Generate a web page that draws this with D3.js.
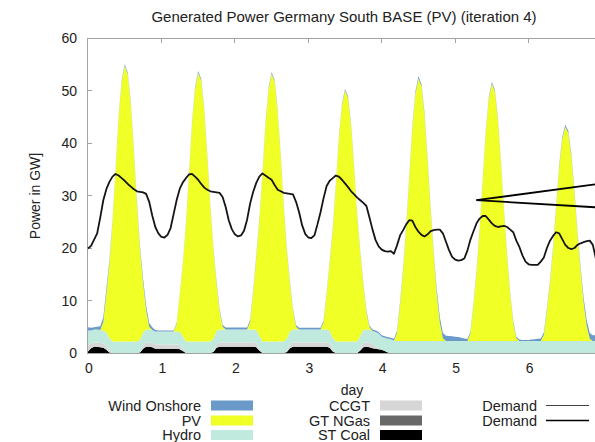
<!DOCTYPE html>
<html>
<head>
<meta charset="utf-8">
<script src="https://cdn.jsdelivr.net/npm/d3@7"></script>
<style>
  html, body { margin: 0; padding: 0; background: #fff; }
  svg { display: block; font-family: "Liberation Sans", Arial, sans-serif; }
</style>
</head>
<body>
<svg id="chart" width="595" height="442"></svg>
<script>
// Hourly generation (GW) for one week, stacked bottom to top.
const dayTicks = [0, 1, 2, 3, 4, 5, 6, 7];
const gwTicks = [0, 10, 20, 30, 40, 50, 60];

const coal = [].concat(
  [0.3,0.9,1.2,1.2,1.1,1.0,0.6,0.1, 0,0,0,0,0,0,0,0,0, 0.1,0.8,1.2,1.2,1.1,0.8,0.8],
  [0.8,0.8,0.8,0.8,0.8,0.8,0.7,0.4, 0,0,0,0,0,0,0,0,0, 0.2,1.0,1.2,1.2,1.2,1.2,1.2],
  [1.2,1.2,1.2,1.2,1.2,1.2,1.2,1.1,0.5, 0,0,0,0,0,0,0,0, 0.2,0.9,1.2,1.2,1.2,1.2,1.2],
  [1.2,1.2,1.2,1.2,1.2,1.2,1.2,1.0,0.3, 0,0,0,0,0,0,0,0, 0.5,1.1,1.2,1.1,0.9,0.8,0.7],
  [0.6,0.4,0.1, 0,0,0,0,0,0,0,0,0,0,0,0,0,0,0,0,0,0,0,0,0],
  [0,0,0,0,0,0,0,0,0,0,0,0,0,0,0,0,0,0,0,0,0,0,0,0],
  [0,0,0,0,0,0,0,0,0,0,0,0,0,0,0,0,0,0,0,0,0,0,0,0],
  [0]
);

const gtNGas = [].concat(
  [0,0,0,0,0,0,0,0,0,0,0,0,0,0,0,0,0,0,0,0,0,0,0,0],
  [0,0,0,0,0,0,0,0,0,0,0,0,0,0,0,0,0,0,0,0,0,0,0,0],
  [0,0,0,0,0,0,0,0,0,0,0,0,0,0,0,0,0,0,0,0,0,0,0,0],
  [0,0,0,0,0,0,0,0,0,0,0,0,0,0,0,0,0,0,0,0,0,0,0,0],
  [0,0,0,0,0,0,0,0,0,0,0,0,0,0,0,0,0,0,0,0,0,0,0,0],
  [0,0,0,0,0,0,0,0,0,0,0,0,0,0,0,0,0,0,0,0,0,0,0,0],
  [0,0,0,0,0,0,0,0,0,0,0,0,0,0,0,0,0,0,0,0,0,0,0,0],
  [0]
);

const ccgt = [].concat(
  [1.2,0.9,0.8,0.8,0.8,0.8,0.8,0.4, 0,0,0,0,0,0,0,0,0, 0.1,0.6,0.8,0.8,0.8,0.8,0.8],
  [0.8,0.8,0.8,0.8,0.8,0.8,0.8,0.4, 0,0,0,0,0,0,0,0,0, 0.2,0.7,0.8,0.8,0.8,0.8,0.8],
  [0.8,0.8,0.8,0.8,0.8,0.8,0.8,0.8,0.4, 0,0,0,0,0,0,0,0, 0.2,0.7,0.8,0.8,0.8,0.8,0.8],
  [0.8,0.8,0.8,0.8,0.8,0.8,0.8,0.8,0.3, 0,0,0,0,0,0,0,0, 0.4,0.8,0.8,0.8,0.8,0.5,0.1],
  [0,0,0,0,0,0,0,0,0,0,0,0,0,0,0,0,0,0,0,0,0,0,0,0],
  [0,0,0,0,0,0,0,0,0,0,0,0,0,0,0,0,0,0,0,0,0,0,0,0],
  [0,0,0,0,0,0,0,0,0,0,0,0,0,0,0,0,0,0,0,0,0,0,0,0],
  [0]
);

const hydro = [].concat(
  [2.8,2.5,2.5,2.5,2.5,2.5,2.5,2.4, 2.2,2.2,2.2,2.2,2.2,2.2,2.2,2.2,2.2, 2.3,2.5,2.5,2.5,2.5,2.5,2.5],
  [2.5,2.5,2.5,2.5,2.5,2.5,2.5,2.4, 2.2,2.2,2.2,2.2,2.2,2.2,2.2,2.2,2.2, 2.3,2.5,2.5,2.5,2.5,2.5,2.5],
  [2.5,2.5,2.5,2.5,2.5,2.5,2.5,2.5,2.4, 2.2,2.2,2.2,2.2,2.2,2.2,2.2,2.2, 2.3,2.5,2.5,2.5,2.5,2.5,2.5],
  [2.5,2.5,2.5,2.5,2.5,2.5,2.5,2.5,2.3, 2.2,2.2,2.2,2.2,2.2,2.2,2.2,2.2, 2.4,2.5,2.5,2.5,2.5,2.7,2.9],
  [2.5,2.5,2.6,2.6,2.4, 2.3,2.3,2.3,2.3,2.3,2.3,2.3,2.3,2.3,2.3,2.3,2.3,2.3,2.3,2.3,2.3,2.3,2.3,2.3],
  [2.3,2.3,2.3,2.3,2.3,2.3,2.3,2.3,2.3,2.3,2.3,2.3,2.3,2.3,2.3,2.3,2.3,2.3,2.3,2.3,2.3,2.3,2.3,2.3],
  [2.3,2.3,2.3,2.3,2.3,2.3,2.3,2.3,2.3,2.3,2.3,2.3,2.3,2.3,2.3,2.3,2.3,2.3,2.3,2.3,2.3,2.3,2.3,2.3],
  [2.3]
);

const pv = [].concat(
  [0,0,0,0,0,1.6,7.4,14.2,22.6,32.6,42.5,49.4,52.5,50.9,45.2,36.2,26.3,17.3,9.5,3.7,0.5,0,0,0],
  [0,0,0,0,0,1.5,7.2,13.8,22.0,31.7,41.5,48.1,51.2,49.7,44.0,35.3,25.6,16.9,9.2,3.6,0.5,0,0,0],
  [0,0,0,0,0,1.5,7.1,13.8,21.9,31.6,41.3,47.9,51.0,49.5,43.9,35.2,25.5,16.8,9.2,3.6,0.5,0,0,0],
  [0,0,0,0,0,1.4,6.7,12.9,20.6,29.6,38.7,44.9,47.8,46.4,41.1,33.0,23.9,15.8,8.6,3.3,0.5,0,0,0],
  [0,0,0,0,0,1.5,7.0,13.5,21.5,31.0,40.5,47.0,50.0,48.5,43.0,34.5,25.0,16.5,9.0,3.5,0.5,0,0,0],
  [0,0,0,0,0,1.5,6.9,13.2,21.1,30.4,39.7,46.1,49.0,47.5,42.1,33.8,24.5,16.2,8.8,3.4,0.5,0,0,0],
  [0,0,0,0,0,1.2,5.7,11.0,17.5,25.3,33.0,38.4,40.8,39.6,35.1,28.2,20.4,13.5,7.3,2.9,0.4,0,0,0],
  [0]
);

const windOnshore = [].concat(
  [0.6,0.5,0.4,0.5,0.7,0.9,0.9,0.6,0.4, 0.3,0.3,0.3,0.3,0.3,0.3,0.3, 0.4,0.6,0.8,0.8,0.7,0.5,0.3,0.2],
  [0.2,0.2,0.2,0.2,0.2,0.2,0.2,0.2, 0.3,0.3,0.3,0.3,0.3,0.3,0.3,0.3,0.3,0.3, 0.35,0.35,0.35,0.35,0.35,0.35],
  [0.35,0.35,0.35,0.35,0.35,0.35,0.35,0.35, 0.3,0.3,0.3,0.3,0.3,0.3,0.3,0.3,0.3,0.3,0.3,0.3,0.3,0.3,0.3,0.3],
  [0.3,0.3,0.3,0.3,0.3,0.3,0.3,0.3,0.3,0.3,0.3,0.3,0.3,0.3,0.3,0.3,0.3,0.3,0.3,0.3,0.3,0.3,0.3,0.3],
  [0.3,0.3,0.3,0.3,0.3, 0.4,0.4,0.4,0.4,0.4,0.4,0.4,0.4,0.4,0.4,0.4,0.4,0.4, 0.8,1.0,1.0,1.0,0.95,0.9],
  [0.8,0.75,0.6,0.45,0.35, 0.3,0.3,0.3,0.3,0.3,0.3,0.3,0.3,0.3,0.3,0.3,0.3,0.3,0.3, 0.35,0.3,0.25,0.2,0.2],
  [0.2,0.25,0.3,0.4,0.45,0.4, 0.4,0.4,0.4,0.4,0.4,0.4,0.4,0.4,0.4,0.4,0.4, 0.6,0.9,1.05,1.1,1.1,1.1,1.1],
  [1.1]
);

const demand = [].concat(
  [19.9,20.4,21.6,22.8,25.8,29.1,31.2,32.6,33.6,34.1,33.8,33.3,32.8,32.2,31.7,31.2,30.8,30.7,30.6,30.3,28.8,26.2,24.0,22.8],
  [22.1,22.0,22.5,23.8,26.5,29.2,31.3,32.5,33.3,34.0,34.1,33.6,33.0,32.2,31.5,31.1,30.8,30.7,30.6,30.5,29.7,27.8,25.3,23.6],
  [22.6,22.2,22.4,23.3,25.4,28.5,30.7,32.4,33.6,34.2,33.8,33.4,33.0,32.0,31.1,30.8,30.5,30.4,30.3,30.2,28.8,26.8,24.3,22.7],
  [22.0,21.9,22.4,24.5,26.8,29.5,31.8,32.8,33.3,33.8,33.6,33.0,32.3,31.6,30.8,30.2,29.6,29.1,28.6,28.0,25.8,23.5,21.5,20.3],
  [19.7,19.4,19.3,19.4,18.9,20.5,22.4,23.4,24.5,25.3,25.2,24.0,23.1,22.5,22.2,22.6,23.2,23.4,23.5,23.5,22.8,21.2,19.6,18.3],
  [17.8,17.6,17.7,18.0,19.5,21.6,23.2,24.7,25.6,26.1,26.1,25.4,24.7,24.2,24.0,24.1,24.2,24.0,23.5,23.0,21.4,20.2,18.6,17.4],
  [16.9,16.8,16.8,16.8,17.4,18.2,20.0,21.4,22.3,23.0,22.8,21.7,20.6,20.0,19.8,20.0,20.6,20.9,21.1,21.3,21.4,20.6,18.0,16.8],
  [16.0]
);

// Two guide strokes that leave the plot towards the key on the right (day, GW).
const guideOrigin = [5.29, 29.1];
const guideEnds = [[7.1, 32.5], [7.1, 27.6]];

const seriesKeys = ["ST Coal", "GT NGas", "CCGT", "Hydro", "PV", "Wind Onshore"];
const seriesValues = [coal, gtNGas, ccgt, hydro, pv, windOnshore];
const seriesColors = {
  "Wind Onshore": "#6a9ac9",
  "PV": "#f0ff26",
  "Hydro": "#bfeadd",
  "CCGT": "#d6d6d6",
  "GT NGas": "#686868",
  "ST Coal": "#000000"
};

const rows = coal.map((_, i) => {
  const r = { day: i / 24 };
  seriesKeys.forEach((k, j) => { r[k] = seriesValues[j][i]; });
  return r;
});

const svg = d3.select("#chart");
const x = d3.scaleLinear().domain([0, 7]).range([88, 602]);
const y = d3.scaleLinear().domain([0, 60]).range([353, 38]);
const frameColor = "#a3a3a3";

// title
svg.append("text")
  .attr("x", 344).attr("y", 22)
  .attr("text-anchor", "middle")
  .attr("font-size", 15).attr("fill", "#222")
  .text("Generated Power Germany South BASE (PV) (iteration 4)");

// inward bottom ticks (hidden under the stack, as in the frame style)
const frame = svg.append("g");
frame.selectAll("line.bt").data(dayTicks.slice(1)).join("line")
  .attr("x1", d => x(d)).attr("x2", d => x(d))
  .attr("y1", y(0)).attr("y2", y(0) - 5)
  .attr("stroke", frameColor);

// stacked areas
const stack = d3.stack().keys(seriesKeys);
const layers = stack(rows);
const area = d3.area()
  .x(d => x(d.data.day))
  .y0(d => y(d[0]))
  .y1(d => y(d[1]));

svg.append("g").selectAll("path").data(layers).join("path")
  .attr("d", area)
  .attr("fill", d => seriesColors[d.key])
  .attr("stroke", "none");

// frame lines and inward ticks
const fg = svg.append("g").attr("stroke", frameColor).attr("stroke-width", 1).attr("shape-rendering", "crispEdges");
fg.append("line").attr("x1", x(0)).attr("x2", x(7)).attr("y1", y(60)).attr("y2", y(60));
fg.append("line").attr("x1", x(0)).attr("x2", x(7)).attr("y1", y(0) + 0.5).attr("y2", y(0) + 0.5);
fg.append("line").attr("x1", x(0) - 0.5).attr("x2", x(0) - 0.5).attr("y1", y(60)).attr("y2", y(0) + 1);
fg.selectAll("line.tt").data(dayTicks.slice(1, 7)).join("line")
  .attr("x1", d => x(d)).attr("x2", d => x(d))
  .attr("y1", y(60)).attr("y2", y(60) + 5);
fg.selectAll("line.lt").data(gwTicks.slice(1, 6)).join("line")
  .attr("x1", x(0)).attr("x2", x(0) + 4)
  .attr("y1", d => y(d)).attr("y2", d => y(d));

// demand
const line = d3.line().x((d, i) => x(i / 24)).y(d => y(d)).curve(d3.curveLinear);
svg.append("path")
  .datum(demand)
  .attr("d", line)
  .attr("fill", "none")
  .attr("stroke", "#151515")
  .attr("stroke-width", 1.8)
  .attr("stroke-linejoin", "round");

// guide strokes
svg.append("g").selectAll("line").data(guideEnds).join("line")
  .attr("x1", x(guideOrigin[0])).attr("y1", y(guideOrigin[1]))
  .attr("x2", d => x(d[0])).attr("y2", d => y(d[1]))
  .attr("stroke", "#000").attr("stroke-width", 1.8);

// tick labels
svg.append("g").selectAll("text").data(gwTicks).join("text")
  .attr("x", 77).attr("y", d => y(d) + 5)
  .attr("text-anchor", "end").attr("font-size", 14).attr("fill", "#222")
  .text(d => d);
svg.append("g").selectAll("text").data(dayTicks.slice(0, 7)).join("text")
  .attr("x", d => x(d) + 1).attr("y", 373)
  .attr("text-anchor", "middle").attr("font-size", 14).attr("fill", "#222")
  .text(d => d);

// axis titles
svg.append("text")
  .attr("transform", "translate(40,196) rotate(-90)")
  .attr("text-anchor", "middle").attr("font-size", 14).attr("fill", "#222")
  .text("Power in GW]");
svg.append("text")
  .attr("x", 352).attr("y", 395)
  .attr("text-anchor", "middle").attr("font-size", 14).attr("fill", "#222")
  .text("day");

// key
const keyCols = [
  { x: 201, items: ["Wind Onshore", "PV", "Hydro"] },
  { x: 370, items: ["CCGT", "GT NGas", "ST Coal"] }
];
const keyRows = [405.5, 420.5, 435];
keyCols.forEach(col => {
  const g = svg.append("g");
  col.items.forEach((name, i) => {
    g.append("text")
      .attr("x", col.x).attr("y", keyRows[i] + 5)
      .attr("text-anchor", "end").attr("font-size", 14.5).attr("fill", "#222")
      .text(name);
    g.append("rect")
      .attr("x", col.x + 10).attr("y", keyRows[i] - 5)
      .attr("width", 42).attr("height", 10)
      .attr("fill", seriesColors[name]);
  });
});
const demandKeys = [{ stroke: "#444", w: 1.2 }, { stroke: "#000", w: 1.6 }];
demandKeys.forEach((k, i) => {
  svg.append("text")
    .attr("x", 537).attr("y", keyRows[i] + 5)
    .attr("text-anchor", "end").attr("font-size", 14.5).attr("fill", "#222")
    .text("Demand");
  svg.append("line")
    .attr("x1", 546).attr("x2", 589)
    .attr("y1", keyRows[i]).attr("y2", keyRows[i])
    .attr("stroke", k.stroke).attr("stroke-width", k.w);
});
</script>
</body>
</html>
